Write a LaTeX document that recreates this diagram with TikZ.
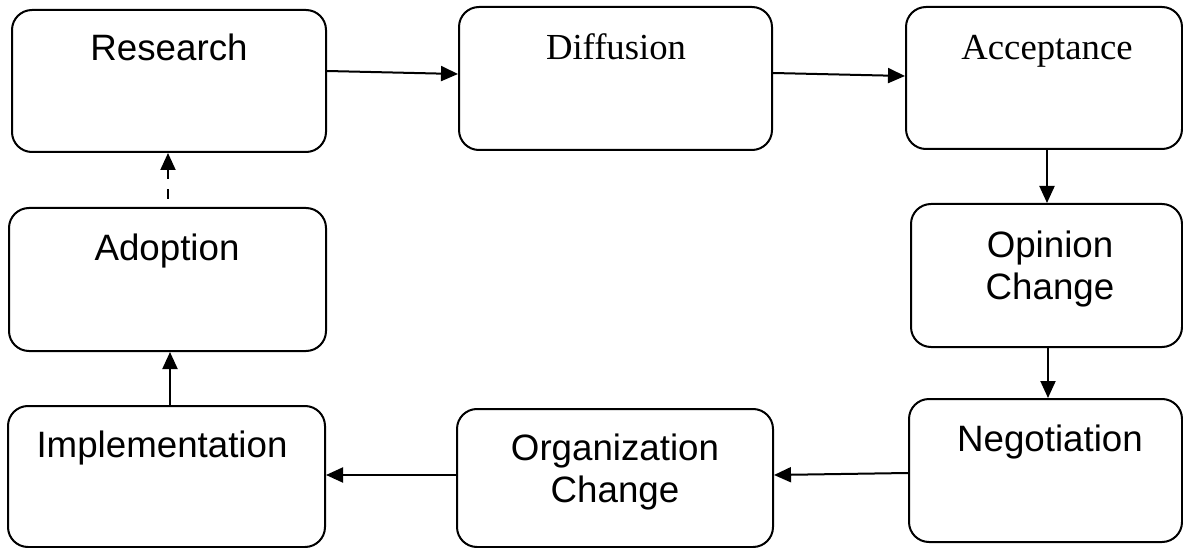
\documentclass[tikz,border=0pt]{standalone}
\usepackage{fontspec}
\setmainfont{Liberation Serif}
\newfontfamily\arialfont{Liberation Sans}
\usetikzlibrary{arrows.meta}
\begin{document}
\begin{tikzpicture}[x=1pt, y=-1pt,
  stage/.style={draw, line width=2pt, rounded corners=20pt, inner sep=0pt},
  sanslabel/.style={font=\arialfont\fontsize{36.7}{42}\selectfont, align=center, anchor=base, inner sep=0pt},
  seriflabel/.style={font=\fontsize{36.7}{42}\selectfont, align=center, anchor=base, inner sep=0pt},
  flow/.style={line width=2pt, -{Triangle[length=17pt, width=15pt]}}]
\useasboundingbox (0,0) rectangle (1183,548);

% stage boxes: (left,top) to (right,bottom)
\node[stage, minimum width=314pt, minimum height=142pt] (research)    at (169,81)     {};
\node[stage, minimum width=313pt, minimum height=143pt] (diffusion)   at (615.5,78.5) {};
\node[stage, minimum width=276pt, minimum height=142pt] (acceptance)  at (1044,78)    {};
\node[stage, minimum width=271pt, minimum height=143pt] (opinion)     at (1046.5,275.5) {};
\node[stage, minimum width=273pt, minimum height=143pt] (negotiation) at (1045.5,470.5) {};
\node[stage, minimum width=316pt, minimum height=138pt] (organization) at (615,478)   {};
\node[stage, minimum width=317pt, minimum height=141pt] (implementation) at (166.5,476.5) {};
\node[stage, minimum width=317pt, minimum height=143pt] (adoption)    at (167.5,279.5) {};

% labels (base anchor sits on the last line of a two-line label)
\node[sanslabel]  (research-t)       at (169,61)  {Research};
\node[seriflabel] (diffusion-t)      at (616,60)  {Diffusion};
\node[seriflabel] (acceptance-t)     at (1047,60) {Acceptance};
\node[sanslabel]  (opinion-t)        at (1050,299) {Opinion\\Change};
\node[sanslabel]  (negotiation-t)    at (1050,451) {Negotiation};
\node[sanslabel]  (organization-t)   at (615,502) {Organization\\Change};
\node[sanslabel]  (implementation-t) at (162,457) {Implementation};
\node[sanslabel]  (adoption-t)       at (167,260) {Adoption};

% connectors
\draw[flow] ([yshift=10pt]research.east) -- ([yshift=4.5pt]diffusion.west);
\draw[flow] ([yshift=5.5pt]diffusion.east) -- ([yshift=2pt]acceptance.west);
\draw[flow] ([xshift=3pt]acceptance.south) -- ([xshift=0.5pt]opinion.north);
\draw[flow] ([xshift=1.5pt]opinion.south) -- ([xshift=2.5pt]negotiation.north);
\draw[flow] ([yshift=-2.5pt]negotiation.west) -- ([yshift=3pt]organization.east);
\draw[flow] ([yshift=3pt]organization.west) -- ([yshift=1.5pt]implementation.east);
\draw[flow] ([xshift=3.5pt]implementation.north) -- ([xshift=2.5pt]adoption.south);
\draw[flow, dash pattern=on 10pt off 10pt, dash phase=12pt] ([xshift=0.5pt]adoption.north) -- ([xshift=-1pt]research.south);
\end{tikzpicture}
\end{document}
